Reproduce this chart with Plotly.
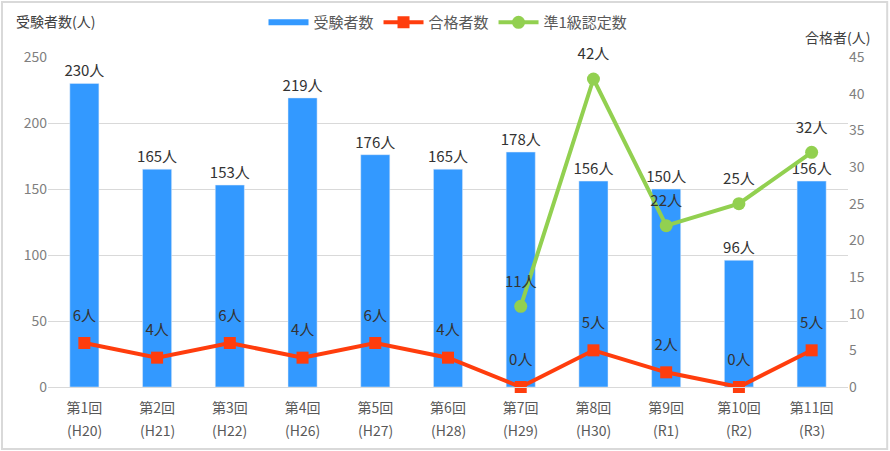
import plotly.graph_objects as go

rounds = ["第1回", "第2回", "第3回", "第4回", "第5回", "第6回", "第7回", "第8回", "第9回", "第10回", "第11回"]
eras = ["(H20)", "(H21)", "(H22)", "(H26)", "(H27)", "(H28)", "(H29)", "(H30)", "(R1)", "(R2)", "(R3)"]
examinees = [230, 165, 153, 219, 176, 165, 178, 156, 150, 96, 156]
passers = [6, 4, 6, 4, 6, 4, 0, 5, 2, 0, 5]
jun1 = [None, None, None, None, None, None, 11, 42, 22, 25, 32]

FONT = "Noto Sans CJK JP"
LBL = dict(size=15, color="#333333", family=FONT)
RED = "#FF3D0D"
GREEN = "#92D050"
BLUE = "#3399FF"

fig = go.Figure()
fig.add_trace(go.Bar(
    x=rounds, y=examinees, name="受験者数", showlegend=False,
    marker_color=BLUE,
    text=[f"{v}人" for v in examinees], textposition="outside",
    textfont=LBL, constraintext="none", cliponaxis=False,
))
# legend entry for bars drawn as a wide line like the reference
fig.add_trace(go.Scatter(
    x=[None], y=[None], name="受験者数", mode="lines",
    line=dict(color=BLUE, width=6),
))
fig.add_trace(go.Scatter(
    x=rounds, y=passers, name="合格者数", yaxis="y2", mode="lines+markers",
    line=dict(color=RED, width=4), marker=dict(symbol="square", size=12, color=RED),
    cliponaxis=False,
))
fig.add_trace(go.Scatter(
    x=rounds, y=jun1, name="準1級認定数", yaxis="y2", mode="lines+markers",
    line=dict(color=GREEN, width=4), marker=dict(symbol="circle", size=13, color=GREEN),
    cliponaxis=False,
))
# label traces (transparent large markers push text upward)
fig.add_trace(go.Scatter(
    x=rounds, y=passers, yaxis="y2", mode="text+markers", showlegend=False, hoverinfo="skip",
    marker=dict(size=28, color="rgba(0,0,0,0)"),
    text=[f"{v}人" for v in passers], textposition="top center", textfont=LBL, cliponaxis=False,
))
fig.add_trace(go.Scatter(
    x=rounds, y=jun1, yaxis="y2", mode="text+markers", showlegend=False, hoverinfo="skip",
    marker=dict(size=24, color="rgba(0,0,0,0)"),
    text=[f"{v}人" if v is not None else "" for v in jun1], textposition="top center",
    textfont=LBL, cliponaxis=False,
))

annotations = [
    dict(text="受験者数(人)", xref="paper", yref="paper", x=-0.043, y=1.11, xanchor="left", yanchor="middle",
         showarrow=False, font=dict(size=14, color="#404040")),
    dict(text="合格者(人)", xref="paper", yref="paper", x=1.03, y=1.06, xanchor="right", yanchor="middle",
         showarrow=False, font=dict(size=14, color="#404040")),
]
for r, e in zip(rounds, eras):
    annotations.append(dict(text=e, x=r, xref="x", yref="paper", y=-0.13, yanchor="middle",
                            showarrow=False, font=dict(size=14, color="#595959")))

fig.update_layout(
    width=890, height=451,
    margin=dict(l=48, r=42, t=57, b=64, autoexpand=False),
    paper_bgcolor="white", plot_bgcolor="white",
    font=dict(family=FONT, color="#595959", size=13),
    bargap=0.6,
    showlegend=True,
    legend=dict(orientation="h", x=0.5, xanchor="center", y=0.95, yanchor="middle", yref="container",
                font=dict(size=15, color="#595959"), bgcolor="rgba(0,0,0,0)", itemwidth=40),
    xaxis=dict(showgrid=False, showline=True, linecolor="#d9d9d9", tickfont=dict(size=14, color="#595959"),
               ticks="", automargin=False, range=[-0.5, 10.5], ticklabelstandoff=8),
    yaxis=dict(range=[0, 250], dtick=50, showgrid=True, gridcolor="#d9d9d9", zeroline=False,
               tickfont=dict(size=14, color="#7f7f7f"), automargin=False),
    yaxis2=dict(range=[0, 45], dtick=5, overlaying="y", side="right", showgrid=False, zeroline=False,
                tickfont=dict(size=14, color="#7f7f7f"), automargin=False),
    annotations=annotations,
    shapes=[dict(type="rect", xref="paper", yref="paper", x0=-0.0575, x1=1.049, y0=-0.188, y1=1.1667,
                 line=dict(color="#d9d9d9", width=2))],
)
fig.write_html("out.html", config={"displayModeBar": False},
               post_script="document.body.style.margin='0';")
